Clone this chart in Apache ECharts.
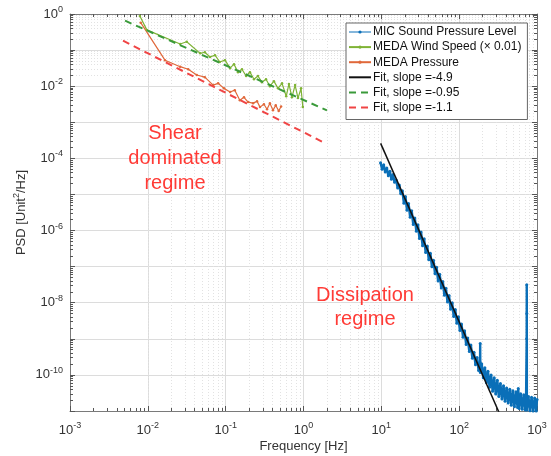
<!DOCTYPE html>
<html>
<head>
<meta charset="utf-8">
<script src="https://cdn.jsdelivr.net/npm/echarts@6/dist/echarts.min.js"></script>
<style>html,body{margin:0;padding:0;background:#fff}#c{width:551px;height:456px}</style>
</head>
<body>
<div id="c"></div>
<script>
// ---- data ----
const freqMic = [9.77,10.23,10.72,11.22,11.75,12.30,12.88,13.49,14.13,14.79,15.49,16.22,16.98,17.78,18.62,19.50,20.42,21.38,22.39,23.44,24.55,25.70,26.92,28.18,29.51,30.90,32.36,33.88,35.48,37.15,38.90,40.74,42.66,44.67,46.77,48.98,51.29,53.70,56.23,58.88,61.66,64.57,67.61,70.79,74.13,77.62,81.28,85.11,89.13,93.33,97.72,102.3,107.2,112.2,117.5,123.0,128.8,134.9,141.3,147.9,154.9,162.2,169.8,177.8,185.5,186.2,186.9,195.0,204.2,213.8,223.9,234.4,245.5,257.0,269.2,281.8,295.1,309.0,323.6,338.8,354.8,371.5,389.0,407.4,426.6,446.7,467.7,489.8,512.9,537.0,562.3,574.0,588.8,616.6,645.7,676.1,707.9,724.0,737.0,738.5,740.0,741.3,776.2,812.8,851.1,891.3,933.3,977.2,1000];
const psdMic = [7.59e-5,5.01e-5,6.61e-5,4.17e-5,5.37e-5,3.31e-5,4.37e-5,2.63e-5,3.55e-5,2.19e-5,2.51e-5,1.51e-5,1.82e-5,1.05e-5,1.26e-5,
  5.75e-6,8.71e-6,3.63e-6,5.62e-6,2.34e-6,3.55e-6,1.48e-6,2.24e-6,9.55e-7,1.45e-6,6.03e-7,9.12e-7,3.80e-7,5.89e-7,2.45e-7,3.72e-7,1.55e-7,2.34e-7,1.0e-7,1.51e-7,
  6.31e-8,9.55e-8,3.98e-8,6.17e-8,2.57e-8,3.89e-8,1.62e-8,2.51e-8,1.05e-8,1.58e-8,6.61e-9,1.0e-8,4.17e-9,6.46e-9,2.69e-9,4.07e-9,1.70e-9,2.57e-9,1.10e-9,1.66e-9,
  6.92e-10,1.05e-9,4.47e-10,6.76e-10,2.88e-10,4.27e-10,1.91e-10,3.02e-10,1.32e-10,2.24e-10,7.41e-10,1.17e-10,2.0e-10,8.32e-11,1.58e-10,6.03e-11,1.26e-10,4.57e-11,1.0e-10,
  3.55e-11,8.32e-11,2.95e-11,7.08e-11,2.51e-11,5.75e-11,2.14e-11,5.01e-11,1.86e-11,4.37e-11,1.66e-11,3.98e-11,1.45e-11,3.63e-11,1.32e-11,3.39e-11,1.26e-11,4.17e-11,
  1.17e-11,3.02e-11,1.12e-11,2.82e-11,1.07e-11,2.63e-11,1.0e-9,3.16e-8,5.01e-9,1.07e-11,2.51e-11,1.02e-11,2.40e-11,1.0e-11,2.29e-11,1.0e-11,2.09e-11];

const freqWind = [0.0079,0.0097,0.026,0.0316,0.047,0.054,0.063,0.073,0.084,0.098,0.114,0.128,0.144,0.162,0.183,0.205,0.231,0.26,0.292,0.33,0.37,0.417,0.47,0.53,0.6,0.65,0.71,0.78,0.85,0.93,0.98];
const psdWind = [0.88,0.363,0.148,0.17,0.0813,0.0871,0.0646,0.0724,0.0468,0.0525,0.0316,0.0407,0.0245,0.0295,0.0191,0.0245,0.0155,0.0191,0.0129,0.0155,0.01,0.0138,0.0087,0.012,0.00525,0.0115,0.0049,0.0107,0.00468,0.0087,0.00263];

const freqPres = [0.0081,0.0166,0.026,0.033,0.0425,0.054,0.069,0.08,0.095,0.114,0.131,0.152,0.172,0.194,0.225,0.253,0.276,0.31,0.34,0.37,0.405,0.44,0.48,0.515];
const psdPres = [0.575,0.0525,0.0347,0.0295,0.0204,0.0178,0.0107,0.012,0.0087,0.00692,0.00776,0.00407,0.0049,0.00363,0.00339,0.0038,0.00263,0.00316,0.00229,0.00339,0.00214,0.00295,0.00204,0.00275];

const fitMicF = [9.8, 330];
const fitMicP = [2.6e-4, 8.5e-12];
const fitWindF = [0.0051, 2.0];
const fitWindP = [0.652, 0.00214];
const fitPresF = [0.0048, 1.95];
const fitPresP = [0.182, 0.000255];

const seriesNames = ['MIC Sound Pressure Level','MEDA Wind Speed (\u00d7 0.01)','MEDA Pressure','Fit, slope =-4.9','Fit, slope =-0.95','Fit, slope =-1.1'];
const xMin = 1e-3, xMax = 1e3, yMin = 1e-11, yMax = 1;
const xDecades = [-3,-2,-1,0,1,2];
const yDecades = [-11,-10,-9,-8,-7,-6,-5,-4,-3,-2,-1];

function pairs(a, b) { return a.map((v, i) => [v, b[i]]); }

// grid / tick positions (2..9 per decade)
const minorX = [], minorY = [], majorY = [];
xDecades.forEach(k => { for (let m = 2; m <= 9; m++) minorX.push(m * Math.pow(10, k)); });
yDecades.forEach(k => { for (let m = 2; m <= 9; m++) minorY.push(m * Math.pow(10, k)); });
yDecades.forEach(k => { if (k > -11) majorY.push(Math.pow(10, k)); });

const FONT = 'Liberation Sans, Arial, Helvetica, sans-serif';
const labelRich = {
  b: { fontSize: 13, color: '#333', fontFamily: FONT },
  s: { fontSize: 9, color: '#333', fontFamily: FONT, padding: [0, 0, 9, 0] }
};
function powLabel(v) {
  const e = Math.round(Math.log10(v));
  return '{b|10}{s|' + e + '}';
}

const gridLines = [];
minorX.forEach(v => gridLines.push({ xAxis: v, lineStyle: { color: '#e2e2e2', type: [1, 2], width: 1 } }));
minorY.forEach(v => gridLines.push({ yAxis: v, lineStyle: { color: '#e2e2e2', type: [1, 2], width: 1 } }));
majorY.forEach(v => gridLines.push({ yAxis: v, lineStyle: { color: '#dcdcdc', type: 'solid', width: 1 } }));

// minor tick segments (inside, all four sides)
const tickSegs = [];
const tx = Math.pow(10, 3 / 36), ty = Math.pow(10, 3 / 77.8);
minorX.forEach(v => {
  tickSegs.push([{ coord: [v, yMin] }, { coord: [v, yMin * tx] }]);
  tickSegs.push([{ coord: [v, yMax] }, { coord: [v, yMax / tx] }]);
});
minorY.forEach(v => {
  tickSegs.push([{ coord: [xMin, v] }, { coord: [xMin * ty, v] }]);
  tickSegs.push([{ coord: [xMax, v] }, { coord: [xMax / ty, v] }]);
});

const chart = echarts.init(document.getElementById('c'), null, { renderer: 'canvas' });
const axisLineStyle = { color: '#7a7a7a', width: 1 };
chart.setOption({
  animation: false,
  backgroundColor: '#fff',
  grid: { left: 70, right: 14, top: 14, bottom: 45, containLabel: false, outerBoundsMode: 'none' },
  xAxis: [{
    type: 'log', logBase: 10, min: xMin, max: xMax, interval: 1,
    name: 'Frequency [Hz]', nameLocation: 'middle', nameGap: 29, nameMoveOverlap: false,
    nameTextStyle: { fontSize: 13, color: '#333', fontFamily: FONT },
    axisLine: { show: true, lineStyle: axisLineStyle },
    axisTick: { show: true, inside: true, length: 5, lineStyle: { color: '#555' } },
    axisLabel: { formatter: powLabel, rich: labelRich, margin: 10, color: '#333' },
    splitLine: { show: true, lineStyle: { color: '#dcdcdc', width: 1 } },
    minorTick: { show: false }, minorSplitLine: { show: false }
  }, {
    type: 'log', logBase: 10, min: xMin, max: xMax, interval: 1, position: 'top',
    axisLine: { show: true, lineStyle: axisLineStyle },
    axisTick: { show: true, inside: true, length: 5, lineStyle: { color: '#555' } },
    axisLabel: { show: false }, splitLine: { show: false }
  }],
  yAxis: [{
    type: 'log', logBase: 10, min: yMin, max: yMax, interval: 1,
    name: 'PSD [Unit{s|2}/Hz]', nameLocation: 'middle', nameGap: 40, nameRotate: 90, nameMoveOverlap: false,
    nameTextStyle: { fontSize: 13, color: '#333', fontFamily: FONT,
      rich: { s: { fontSize: 9, color: '#333', fontFamily: FONT, padding: [0, 0, 9, 0] } } },
    axisLine: { show: true, lineStyle: axisLineStyle },
    axisTick: { show: true, inside: true, length: 5, lineStyle: { color: '#555' } },
    axisLabel: {
      formatter: function (v) { const e = Math.round(Math.log10(v)); return (e % 2 === 0) ? powLabel(v) : ''; },
      rich: labelRich, margin: 7, color: '#333'
    },
    splitLine: { show: true, lineStyle: { color: '#dcdcdc', width: 1 } }
  }, {
    type: 'log', logBase: 10, min: yMin, max: yMax, interval: 1, position: 'right',
    axisLine: { show: true, lineStyle: axisLineStyle },
    axisTick: { show: true, inside: true, length: 5, lineStyle: { color: '#555' } },
    axisLabel: { show: false }, splitLine: { show: false }
  }],
  legend: {
    data: [
      { name: seriesNames[0], lineStyle: { width: 1 } },
      { name: seriesNames[1] },
      { name: seriesNames[2] },
      { name: seriesNames[3], itemStyle: { opacity: 0 } },
      { name: seriesNames[4], itemStyle: { opacity: 0 } },
      { name: seriesNames[5], itemStyle: { opacity: 0 } }
    ],
    orient: 'vertical', left: 346, top: 23, width: 181, z: 20,
    padding: [3, 6, 6, 2], itemGap: 3.1, itemWidth: 22, itemHeight: 4,
    backgroundColor: '#fff', borderColor: '#666', borderWidth: 1, borderRadius: 0,
    textStyle: { fontSize: 12, color: '#111', fontFamily: FONT, padding: [0, 0, 0, -3] },
    selectedMode: false
  },
  graphic: [
    { type: 'text', x: 175, y: 158, z: 50, silent: true,
      style: { text: 'Shear\ndominated\nregime', fill: '#ff3b36', font: '20px ' + FONT, align: 'center', verticalAlign: 'middle', lineHeight: 25 } },
    { type: 'text', x: 365, y: 307, z: 50, silent: true,
      style: { text: 'Dissipation\nregime', fill: '#ff3b36', font: '20px ' + FONT, align: 'center', verticalAlign: 'middle', lineHeight: 24 } }
  ],
  series: [
    {
      name: '_grid', type: 'line', data: [], silent: true, z: 0,
      markLine: { silent: true, z: 0, symbol: ['none', 'none'], label: { show: false }, animation: false,
        emphasis: { disabled: true }, data: gridLines }
    },
    {
      name: '_ticks', type: 'line', data: [], silent: true, z: 1,
      markLine: { silent: true, z: 1, symbol: ['none', 'none'], label: { show: false }, animation: false,
        emphasis: { disabled: true }, lineStyle: { color: '#555', type: 'solid', width: 1 }, data: tickSegs }
    },
    {
      name: seriesNames[0], type: 'line', data: pairs(freqMic, psdMic), z: 3,
      color: '#0072BD', lineStyle: { width: 2.4 }, symbol: 'circle', symbolSize: 3,
      itemStyle: { color: '#0a6fb8' }
    },
    {
      name: seriesNames[1], type: 'line', data: pairs(freqWind, psdWind), z: 3,
      color: '#8aba3c', lineStyle: { width: 1.2 }, symbol: 'circle', symbolSize: 2.5,
      itemStyle: { color: '#7fb335' }
    },
    {
      name: seriesNames[2], type: 'line', data: pairs(freqPres, psdPres), z: 3,
      color: '#e2784a', lineStyle: { width: 1.2 }, symbol: 'circle', symbolSize: 2.5,
      itemStyle: { color: '#e0683a' }
    },
    {
      name: seriesNames[3], type: 'line', data: pairs(fitMicF, fitMicP), z: 4,
      color: '#111', lineStyle: { width: 1.5, color: '#111' }, symbol: 'none'
    },
    {
      name: seriesNames[4], type: 'line', data: pairs(fitWindF, fitWindP), z: 4,
      color: '#3a9a3a', lineStyle: { width: 2, type: [7, 5], color: '#3a9a3a' }, symbol: 'none'
    },
    {
      name: seriesNames[5], type: 'line', data: pairs(fitPresF, fitPresP), z: 4,
      color: '#f04444', lineStyle: { width: 2, type: [7, 5], color: '#f04444' }, symbol: 'none'
    }
  ]
});
</script>
</body>
</html>
